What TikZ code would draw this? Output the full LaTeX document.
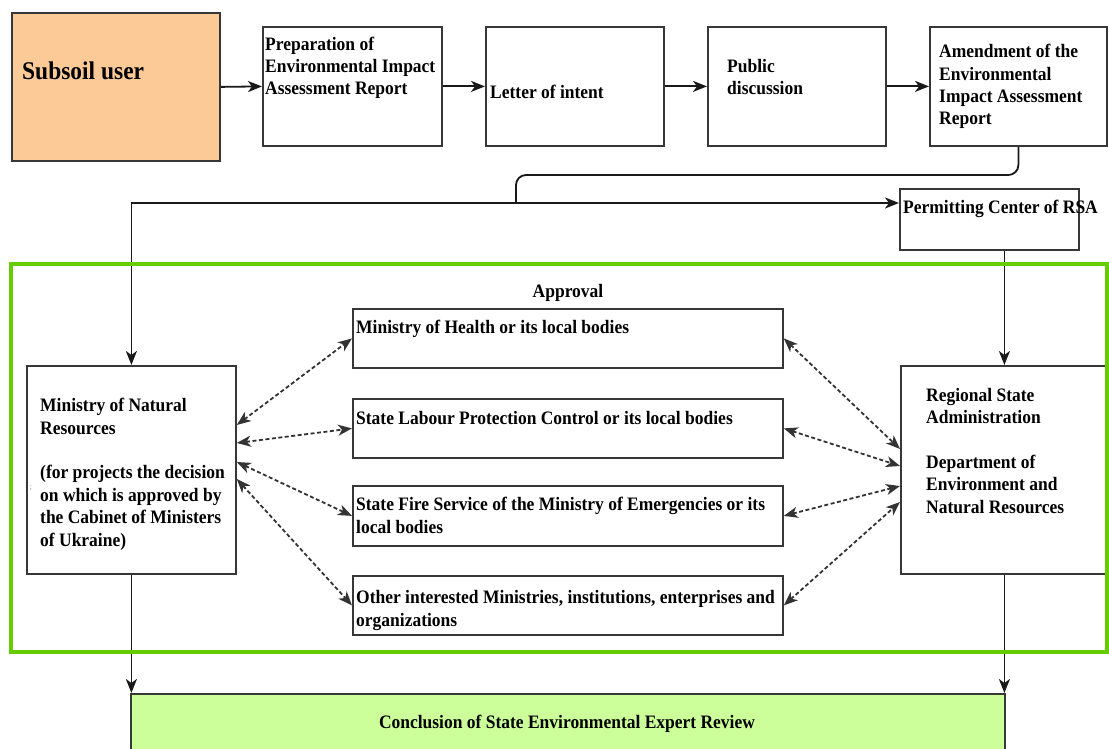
\documentclass[tikz,border=0pt]{standalone}
\usepackage{fontspec}
\setmainfont[FakeStretch=0.92]{Liberation Serif}
\usetikzlibrary{arrows.meta,calc}
\definecolor{orangefill}{RGB}{251,202,151}
\definecolor{greenframe}{RGB}{102,204,0}
\definecolor{concfill}{RGB}{204,255,153}
\definecolor{edge}{RGB}{55,55,55}
\begin{document}
\begin{tikzpicture}[x=1pt,y=-1pt,
  box/.style={draw=edge, line width=1.8pt, inner sep=0pt, anchor=north west, fill=white},
  txt/.style={inner sep=0pt, anchor=base west, align=left, font=\fontsize{19}{22.4}\selectfont\bfseries},
  arr/.style={draw=black!90, line width=1.8pt, -{Stealth[length=14pt,width=11pt,inset=4pt]}},
  plain/.style={draw=black!90, line width=1.8pt},
  darr/.style={draw=black!80, line width=1.8pt, dash pattern=on 4pt off 2.5pt,
    {Stealth[length=14pt,width=11pt,inset=4pt]}-{Stealth[length=14pt,width=11pt,inset=4pt]}}
]
\useasboundingbox (0,0) rectangle (1109,749);

% top row
\node[box, fill=orangefill, minimum width=208pt, minimum height=148pt] (user) at (11,12) {};
\node[box, minimum width=179pt, minimum height=119pt] (prep) at (262,26) {};
\node[box, minimum width=178pt, minimum height=119pt] (letter) at (485,26) {};
\node[box, minimum width=178pt, minimum height=119pt] (public) at (707,26) {};
\node[box, minimum width=177pt, minimum height=119pt] (amend) at (929,26) {};
\node[box, minimum width=179pt, minimum height=61pt] (perm) at (899,188) {};

% approval frame contents
\node[box, minimum width=209pt, minimum height=208pt] (nr) at (26,365) {};
\node[box, minimum width=207pt, minimum height=208pt] (rsa) at (900,365) {};
\node[box, minimum width=430pt, minimum height=59pt] (health) at (352,308) {};
\node[box, minimum width=430pt, minimum height=59pt] (labour) at (352,398) {};
\node[box, minimum width=430pt, minimum height=60pt] (fire) at (352,485) {};
\node[box, minimum width=430pt, minimum height=59pt] (other) at (352,575) {};
\node[box, fill=concfill, minimum width=874pt, minimum height=70pt] (concl) at (130,693) {};

% texts (anchor = baseline of the last line)
\node[txt, font=\fontsize{25.5}{28}\selectfont\bfseries] (tuser) at (22,80) {Subsoil user};
\node[txt] (tprep) at (265,95) {Preparation of\\Environmental Impact\\Assessment Report};
\node[txt] (tletter) at (490,99) {Letter of intent};
\node[txt] (tpublic) at (727,95) {Public\\discussion};
\node[txt] (tamend) at (939,125) {Amendment of the\\Environmental\\Impact Assessment\\Report};
\node[txt] (tperm) at (903,214) {Permitting Center of RSA};
\node[txt, anchor=base] (tappr) at (568,297) {Approval};
\node[txt] (thealth) at (356,333) {Ministry of Health or its local bodies};
\node[txt] (tlabour) at (356,424) {State Labour Protection Control or its local bodies};
\node[txt] (tfire) at (356,533) {State Fire Service of the Ministry of Emergencies or its\\local bodies};
\node[txt] (tother) at (356,626) {Other interested Ministries, institutions, enterprises and\\organizations};
\node[txt] (tnr) at (40,546) {Ministry of Natural\\Resources\\[22.4pt](for projects the decision\\on which is approved by\\the Cabinet of Ministers\\of Ukraine)};
\node[txt] (trsa) at (926,513) {Regional State\\Administration\\[22.4pt]Department of\\Environment and\\Natural Resources};
\node[txt, anchor=base] (tconcl) at (567,728) {Conclusion of State Environmental Expert Review};
\node[inner sep=0pt, text=black!50, font=\fontsize{8}{8}\selectfont] (semi) at (31,488) {;};

% connectors
\draw[arr] (user.east) -- (prep.west);
\draw[arr] (prep.east) -- (letter.west);
\draw[arr] (letter.east) -- (public.west);
\draw[arr] (public.east) -- (amend.west);
\coordinate (junc) at (516,203);
\draw[plain, rounded corners=10pt] (amend.south) |- (junc |- 0,175) -- (junc);
\draw[arr] (junc) -- (junc -| perm.west);
\draw[arr] (junc) -| (nr.north);
\draw[arr] (perm.south -| rsa.north) -- (rsa.north);
\draw[arr] (nr.south) -- (nr.south |- concl.north);
\draw[arr] (rsa.south) -- (rsa.south |- concl.north);

% dashed two-way arrows
\draw[darr] ([yshift=-60pt]nr.north east) -- (health.west);
\draw[darr] ([yshift=-78pt]nr.north east) -- (labour.west);
\draw[darr] ([yshift=-97pt]nr.north east) -- (fire.west);
\draw[darr] ([yshift=-114pt]nr.north east) -- (other.west);
\draw[darr] (health.east) -- ([yshift=-84pt]rsa.north west);
\draw[darr] (labour.east) -- ([yshift=-101pt]rsa.north west);
\draw[darr] (fire.east) -- ([yshift=-121pt]rsa.north west);
\draw[darr] (other.east) -- ([yshift=-137pt]rsa.north west);

% approval frame
\draw[greenframe, line width=3.5pt] (11,264) rectangle (1107,652);
\end{tikzpicture}
\end{document}
